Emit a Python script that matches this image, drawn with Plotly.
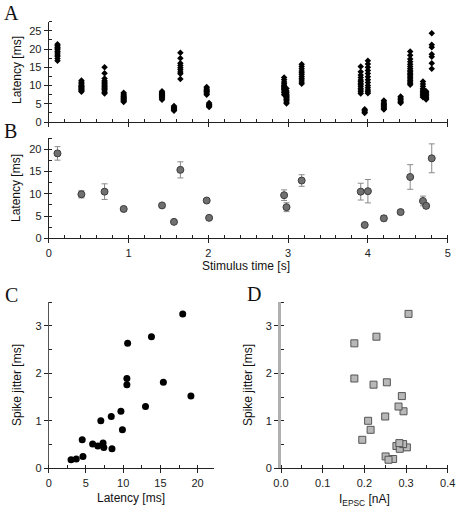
import plotly.graph_objects as go

W, H = 457, 510

# ---------------- data ----------------
stim_times = [0.11, 0.41, 0.70, 0.94, 1.42, 1.57, 1.65, 1.98, 2.01, 2.95, 2.98,
              3.17, 3.91, 4.00, 3.96, 4.20, 4.41, 4.53, 4.69, 4.73, 4.80]

raw_latencies = [
    [21.3, 20.9, 20.5, 20.2, 19.8, 19.3, 18.9, 18.4, 18.0, 17.4, 16.8],
    [11.4, 11.0, 10.7, 10.4, 10.1, 9.9, 9.7, 9.5, 9.3, 9.1, 8.9, 8.7, 8.5, 8.3],
    [15.0, 13.4, 11.9, 11.3, 11.0, 10.7, 10.4, 10.1, 9.8, 9.5, 9.2, 8.9, 8.5, 8.1, 7.8],
    [8.0, 7.7, 7.4, 7.1, 6.9, 6.7, 6.5, 6.3, 6.1, 5.9, 5.7, 5.5],
    [8.4, 8.1, 7.9, 7.7, 7.5, 7.3, 7.1, 6.9, 6.7, 6.4, 6.1],
    [4.4, 4.1, 3.9, 3.7, 3.5, 3.3, 3.1],
    [19.0, 17.5, 16.1, 15.5, 14.9, 14.3, 13.7, 13.2, 11.8],
    [9.6, 9.3, 9.0, 8.7, 8.5, 8.3, 8.0, 7.7, 7.5],
    [5.2, 4.9, 4.7, 4.5, 4.3, 4.1],
    [12.2, 11.6, 11.0, 10.5, 10.1, 9.8, 9.5, 9.2, 8.9, 8.5, 8.0, 7.5],
    [9.2, 8.5, 8.0, 7.6, 7.3, 7.0, 6.7, 6.4, 6.1, 5.8, 5.4, 5.1],
    [15.8, 15.2, 14.6, 14.0, 13.5, 13.0, 12.5, 12.0, 11.5, 11.0, 10.5],
    [15.2, 13.8, 12.9, 12.2, 11.5, 11.1, 10.6, 10.2, 9.7, 9.2, 8.8, 8.3, 7.8],
    [16.8, 15.9, 15.0, 14.1, 13.3, 12.4, 11.6, 10.8, 10.0, 9.4, 8.8, 8.3, 7.9],
    [3.5, 3.2, 3.0, 2.7, 2.5],
    [5.9, 5.5, 5.1, 4.8, 4.5, 4.2, 3.9, 3.6, 3.4],
    [7.0, 6.6, 6.3, 6.0, 5.7, 5.4, 5.2],
    [19.3, 18.3, 17.3, 16.5, 15.8, 15.2, 14.7, 14.2, 13.8, 13.4, 13.0, 12.6,
     12.2, 11.8, 11.4, 11.0, 10.6, 10.2],
    [11.1, 10.4, 9.8, 9.2, 8.8, 8.4, 8.0, 7.7, 7.4, 7.1, 6.8],
    [8.4, 8.0, 7.7, 7.4, 7.1, 6.8, 6.5, 6.2],
    [24.3, 21.2, 20.5, 18.6, 17.9, 16.1, 14.6],
]

latency_mean = [19.1, 9.9, 10.5, 6.6, 7.4, 3.7, 15.4, 8.5, 4.6, 9.7, 7.0,
                13.0, 10.5, 10.6, 3.0, 4.5, 5.9, 13.8, 8.4, 7.3, 18.0]
spike_jitter = [1.52, 0.81, 1.76, 0.47, 0.44, 0.196, 1.81, 0.41, 0.25, 1.20, 1.00,
                1.30, 1.89, 2.63, 0.18, 0.60, 0.51, 2.77, 1.09, 0.53, 3.25]
i_epsc = [0.290, 0.215, 0.222, 0.277, 0.302, 0.269, 0.254, 0.285, 0.251, 0.294, 0.209,
          0.282, 0.176, 0.176, 0.258, 0.195, 0.293, 0.229, 0.250, 0.284, 0.306]

# ---------------- figure ----------------
raw_x, raw_y = [], []
for t, vals in zip(stim_times, raw_latencies):
    raw_x += [t] * len(vals)
    raw_y += vals

fig = go.Figure()
fig.add_trace(go.Scatter(x=raw_x, y=raw_y, mode="markers", xaxis="x", yaxis="y",
                         marker=dict(symbol="diamond", size=5, color="black"),
                         showlegend=False))
fig.add_trace(go.Scatter(x=stim_times, y=latency_mean, mode="markers", xaxis="x2", yaxis="y2",
                         error_y=dict(type="data", array=spike_jitter, color="#8a8a8a",
                                      thickness=1, width=3),
                         marker=dict(symbol="circle", size=7, color="#707070",
                                     line=dict(color="#3c3c3c", width=1)),
                         showlegend=False))
fig.add_trace(go.Scatter(x=latency_mean, y=spike_jitter, mode="markers", xaxis="x3", yaxis="y3",
                         marker=dict(symbol="circle", size=7, color="black"),
                         showlegend=False))
fig.add_trace(go.Scatter(x=i_epsc, y=spike_jitter, mode="markers", xaxis="x4", yaxis="y4",
                         marker=dict(symbol="square", size=7, color="#b8b8b8",
                                     line=dict(color="#555555", width=1)),
                         showlegend=False))

def px(x):
    return x / W

def py(y):
    return 1 - y / H

tickfont = dict(family="Liberation Sans, Arial", size=11, color="#222")

def axis(domain, rng, dtick, mdtick, anchor, labels=True, lc="#222", lw=1, fmt=None):
    d = dict(domain=domain, range=rng, dtick=dtick, tick0=0, anchor=anchor,
             automargin=False,
             showgrid=False, zeroline=False, showline=True, linecolor=lc, linewidth=lw,
             ticks="outside", ticklen=4, tickcolor="#222", tickwidth=1,
             showticklabels=labels, tickfont=tickfont, fixedrange=True,
             minor=dict(dtick=mdtick, tick0=0, ticks="inside", ticklen=3,
                        tickcolor="#222", showgrid=False))
    if fmt:
        d["tickformat"] = fmt
    return d

xAB = [px(48.7), px(447.7)]
fig.update_layout(
    width=W, height=H, margin=dict(l=0, r=0, t=0, b=0, autoexpand=False),
    paper_bgcolor="white", plot_bgcolor="white",
    xaxis=axis(xAB, [0, 5], 1, 0.2, "y", labels=False),
    yaxis=axis([py(122), py(21.7)], [0, 27.5], 5, 2.5, "x"),
    xaxis2=axis(xAB, [0, 5], 1, 0.2, "y2"),
    yaxis2=axis([py(238.3), py(138.3)], [0, 22.5], 5, 2.5, "x2"),
    xaxis3=axis([px(48.7), px(214)], [0, 22.2], 5, 2.5, "y3"),
    yaxis3=axis([py(468.3), py(302)], [0, 3.5], 1, 0.5, "x3", lc="#555"),
    xaxis4=axis([px(281), px(447.7)], [0, 0.4], 0.1, 0.05, "y4", fmt=".1f"),
    yaxis4=axis([py(468.3), py(302)], [0, 3.5], 1, 0.5, "x4", lc="#b0b0b0", lw=3),
)

titlefont = dict(family="Liberation Sans, Arial", size=12, color="#111")
letterfont = dict(family="Liberation Serif, Times New Roman", size=20, color="#111")

def ann(text, x, y, font, angle=0):
    fig.add_annotation(text=text, x=px(x), y=py(y), xref="paper", yref="paper",
                       showarrow=False, xanchor="center", yanchor="middle",
                       font=font, textangle=angle)

ann("Latency [ms]", 17, 70, titlefont, -90)
ann("Latency [ms]", 16, 188, titlefont, -90)
ann("Stimulus time [s]", 246, 266, titlefont)
ann("Latency [ms]", 131, 498, titlefont)
ann("Spike jitter [ms]", 17, 385, titlefont, -90)
ann("Spike jitter [ms]", 248, 385, titlefont, -90)
ann("I<sub>EPSC</sub> [nA]", 364, 500, titlefont)

ann("A", 11, 13, letterfont)
ann("B", 10, 131, letterfont)
ann("C", 11, 295, letterfont)
ann("D", 254, 294, letterfont)

fig.write_html("out.html",
               config={"displayModeBar": False, "staticPlot": True},
               post_script="document.body.style.margin='0';"
                           "document.body.style.overflow='hidden';")
